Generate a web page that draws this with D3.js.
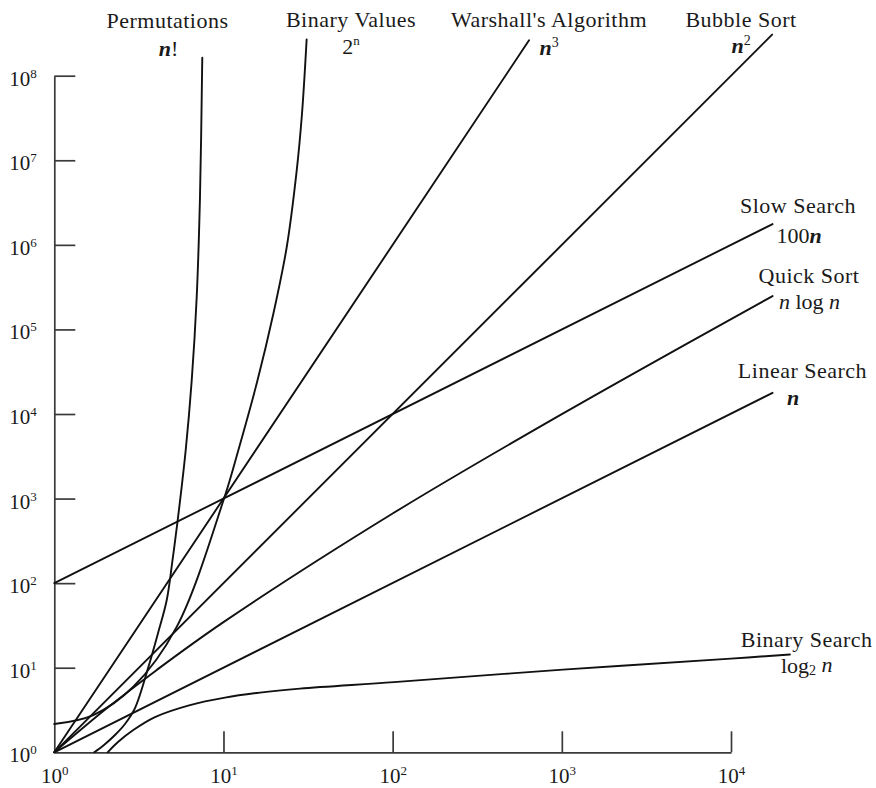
<!DOCTYPE html>
<html>
<head>
<meta charset="utf-8">
<script src="https://cdn.jsdelivr.net/npm/d3@7/dist/d3.min.js"></script>
<style>
  html, body { margin: 0; padding: 0; background: #fff; }
  svg { display: block; }
  text { font-family: "Liberation Serif", "Times New Roman", serif; fill: #1a1a1a; }
</style>
</head>
<body>
<svg id="chart" width="876" height="788"></svg>
<script>
// ---- tick values ----
const xTickValues = [1, 10, 100, 1000, 10000];
const xTickExponents = ["0", "1", "2", "3", "4"];
const yTickValues = [1, 10, 100, 1e3, 1e4, 1e5, 1e6, 1e7, 1e8];
const yTickExponents = ["0", "1", "2", "3", "4", "5", "6", "7", "8"];

// ---- series (n, value) ----
const permutationsN = [1.723, 1.967, 2.285, 2.617, 2.999, 3.594, 4.102, 4.617, 4.996, 5.362, 5.979, 6.489, 6.944, 7.263, 7.494];
const permutationsV = [1, 1.22, 1.60, 2.16, 3.33, 10.1, 25.6, 62.8, 186, 553, 3710, 24800, 2.39e5, 3.63e6, 1.63e8];

const binaryValuesN = [1, 1.701, 2.931, 5.289, 10.07, 12.23, 15.88, 19.70, 23.63, 27.08, 29.10, 31.02];
const binaryValuesV = [2.16, 2.76, 5.95, 30.4, 997, 3710, 24860, 1.52e5, 9.31e5, 7.5e6, 3.5e7, 2.69e8];

const warshallN = [1, 640];
const warshallV = [1, 2.62e8];

const bubbleN = [1, 17500];
const bubbleV = [1, 3.06e8];

const slowSearchN = [1, 17600];
const slowSearchV = [100, 1.76e6];

const quickSortN = [1, 2, 4, 10, 100, 1000, 17600];
const quickSortV = [1, 3.2, 9.3, 34.6, 666, 9970, 2.48e5];

const linearSearchN = [1, 17600];
const linearSearchV = [1, 17800];

const binarySearchN = [2.068, 2.379, 2.931, 3.937, 6.339, 10.21, 16.44, 28.32, 101.8, 1015, 9986, 22290];
const binarySearchV = [1, 1.323, 1.834, 2.611, 3.618, 4.436, 5.082, 5.665, 6.761, 9.496, 12.81, 14.35];

const seriesList = [
  {name: "Permutations", n: permutationsN, v: permutationsV},
  {name: "Binary Values", n: binaryValuesN, v: binaryValuesV},
  {name: "Warshall's Algorithm", n: warshallN, v: warshallV},
  {name: "Bubble Sort", n: bubbleN, v: bubbleV},
  {name: "Slow Search", n: slowSearchN, v: slowSearchV},
  {name: "Quick Sort", n: quickSortN, v: quickSortV},
  {name: "Linear Search", n: linearSearchN, v: linearSearchV},
  {name: "Binary Search", n: binarySearchN, v: binarySearchV}
];

const svg = d3.select("#chart");
svg.append("rect").attr("width", 876).attr("height", 788).attr("fill", "#fff");

const x = d3.scaleLog().domain([1, 1e4]).range([54.3, 731]);
const y = d3.scaleLog().domain([1, 1e8]).range([752.3, 75.7]);

// ---- axes ----
const xAxis = d3.axisBottom(x).tickValues(xTickValues).tickSizeInner(-21).tickSizeOuter(0).tickPadding(0);
const yAxis = d3.axisLeft(y).tickValues(yTickValues).tickSizeInner(-21).tickSizeOuter(0).tickPadding(0);

const gx = svg.append("g").attr("transform", "translate(0,752.3)").call(xAxis);
const gy = svg.append("g").attr("transform", "translate(54.3,0)").call(yAxis);

[gx, gy].forEach(g => {
  g.select(".domain").attr("stroke", "#3a3a3a").attr("stroke-width", 1.7);
  g.selectAll(".tick line").attr("stroke", "#3a3a3a").attr("stroke-width", 1.7);
});
gx.selectAll(".tick").filter(d => d === 1).select("line").remove();
gy.selectAll(".tick").filter(d => d === 1).select("line").remove();

function powerLabel(sel, exps, vals) {
  sel.each(function(d) {
    const t = d3.select(this);
    const i = vals.indexOf(d);
    t.text(null);
    t.append("tspan").text("10");
    t.append("tspan").attr("font-size", "13px").attr("dy", "-0.62em").text(exps[i]);
  });
}

gx.selectAll(".tick text")
  .attr("y", 31).attr("dy", null)
  .attr("font-size", "21px")
  .attr("text-anchor", "middle")
  .attr("font-family", "Liberation Serif, serif")
  .attr("fill", "#1a1a1a")
  .call(powerLabel, xTickExponents, xTickValues);

gy.selectAll(".tick text")
  .attr("x", -17.6).attr("y", 9.5).attr("dy", null)
  .attr("font-size", "21px")
  .attr("text-anchor", "end")
  .attr("font-family", "Liberation Serif, serif")
  .attr("fill", "#1a1a1a")
  .call(powerLabel, yTickExponents, yTickValues);

// ---- curves ----
const line = d3.line()
  .x(d => x(d[0]))
  .y(d => y(d[1]))
  .curve(d3.curveCatmullRom.alpha(0.5));

svg.append("g").selectAll("path")
  .data(seriesList)
  .join("path")
  .attr("d", s => line(s.n.map((nn, i) => [nn, s.v[i]])))
  .attr("fill", "none")
  .attr("stroke", "#111")
  .attr("stroke-width", 1.9)
  .attr("stroke-linecap", "round");

// ---- labels ----
const labels = svg.append("g").attr("font-size", "22px").attr("text-anchor", "middle").style("letter-spacing", "0.5px");

function title(xp, yp, txt) {
  labels.append("text").attr("x", xp).attr("y", yp).text(txt);
}
function formula(xp, yp, parts, anchor) {
  const t = labels.append("text").attr("x", xp).attr("y", yp).attr("text-anchor", anchor || "middle").style("letter-spacing", "0");
  parts.forEach(p => {
    const ts = t.append("tspan").text(p.t);
    if (p.b) ts.attr("font-weight", "bold");
    if (p.i) ts.attr("font-style", "italic");
    if (p.s) ts.attr("font-size", p.s);
    if (p.dy) ts.attr("dy", p.dy);
  });
}

title(167.5, 28, "Permutations");
formula(168.5, 56, [{t: "n", b: 1, i: 1}, {t: "!"}]);

title(351, 27, "Binary Values");
formula(351, 53.5, [{t: "2"}, {t: "n", s: "13px", dy: "-0.65em"}]);

title(549, 27, "Warshall's Algorithm");
formula(549, 55, [{t: "n", b: 1, i: 1}, {t: "3", s: "14px", dy: "-0.55em"}]);

title(741, 27, "Bubble Sort");
formula(741, 53, [{t: "n", b: 1, i: 1}, {t: "2", s: "14px", dy: "-0.55em"}]);

title(798, 213.3, "Slow Search");
formula(799, 243.3, [{t: "100"}, {t: "n", b: 1, i: 1}]);

title(809, 283.3, "Quick Sort");
formula(809.5, 308.5, [{t: "n", i: 1}, {t: " log "}, {t: "n", i: 1}]);

title(802.5, 378.3, "Linear Search");
formula(793, 405, [{t: "n", b: 1, i: 1}]);

title(806.7, 646.7, "Binary Search");
formula(806.7, 673.3, [{t: "log"}, {t: "2", s: "14px", dy: "0.15em"}, {t: " "}, {t: "n", i: 1, dy: "-0.15em"}]);
</script>
</body>
</html>
